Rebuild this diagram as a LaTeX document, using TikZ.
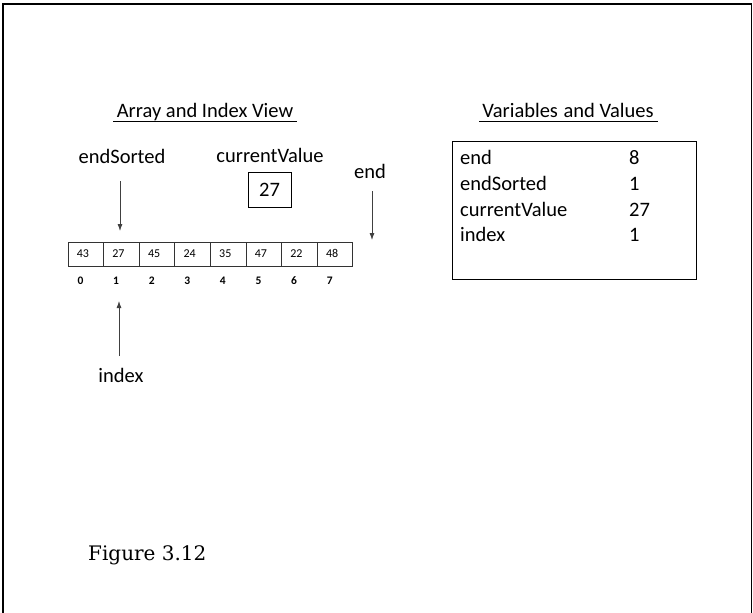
\documentclass[tikz,border=0pt]{standalone}
\usepackage{fontspec}
\setmainfont{Carlito}
\newfontfamily\figfont{DejaVu Serif}
\usetikzlibrary{arrows.meta}
\begin{document}
\begin{tikzpicture}[x=1pt,y=-1pt,
  big/.style={font=\fontsize{20.5}{24}\selectfont, inner sep=0pt, text height=14pt, text depth=4pt},
  cell/.style={draw=black!80, line width=0.8pt, minimum height=24pt, text width=18pt, inner xsep=8.8pt, inner ysep=0pt, align=left, text height=8.5pt, text depth=2.5pt, font=\fontsize{12}{14}\selectfont},
  idx/.style={font=\fontsize{11.5}{13}\selectfont, inner sep=0pt, text height=8.5pt, text depth=0pt},
  ptr/.style={draw=black!75, line width=0.8pt, -{Latex[length=7pt,width=5pt]}},
  ttl/.style={font=\fontsize{20.5}{24}\selectfont, inner sep=0pt, text height=14pt, text depth=4pt}
]
\useasboundingbox (0,0) rectangle (753,613);
% frame
\draw[line width=1.6pt] (3,613) -- (3,4) -- (751.5,4) -- (751.5,613);

% titles
\node[ttl] (t1) at (205,112) {Array and Index View};
\draw[line width=1pt] (113,121) -- (297,121);
\node[ttl] (t2) at (568,112) {Variables\hspace{0.05em} and Values};
\draw[line width=1pt] (479,121) -- (658,121);

% array cells
\foreach \v [count=\i from 0] in {43,27,45,24,35,47,22,48} {
  \node[cell] (c\i) at (85.8+35.6*\i,254) {\v};
  \node[idx] (n\i) at (80.5+35.6*\i,280) {\bfseries\i};
}

% endSorted
\node[big] (es) at (122,158) {endSorted};
\coordinate (esA) at (120,181);
\coordinate (esB) at (120,231);
\draw[ptr] (esA) -- (esB);

% currentValue
\node[big] (cv) at (270,157) {currentValue};
\node[draw, line width=0.9pt, minimum width=43pt, minimum height=35pt, inner sep=0pt, font=\fontsize{20.5}{24}\selectfont] (cvb) at (269.5,189.5) {27};

% end
\node[big] (en) at (370,173) {end};
\coordinate (enA) at (372,191);
\coordinate (enB) at (372,240);
\draw[ptr] (enA) -- (enB);

% index
\node[big] (ix) at (121,377) {index};
\coordinate (ixA) at (119,356);
\coordinate (ixB) at (119,301);
\draw[ptr] (ixA) -- (ixB);

% variables box
\node[draw, line width=0.9pt, minimum width=244pt, minimum height=138pt] (vb) at (574,210) {};
\foreach \nm/\val/\y in {end/8/159, endSorted/1/185, currentValue/27/211, index/1/236} {
  \node[big, anchor=west] (r\nm) at (460,\y) {\nm};
  \node[big, anchor=west] (v\nm) at (629,\y) {\val};
}

% caption
\node[anchor=west, inner sep=0pt, font=\figfont\fontsize{20}{24}\selectfont] (fig) at (88,555) {Figure 3.12};
\end{tikzpicture}
\end{document}
